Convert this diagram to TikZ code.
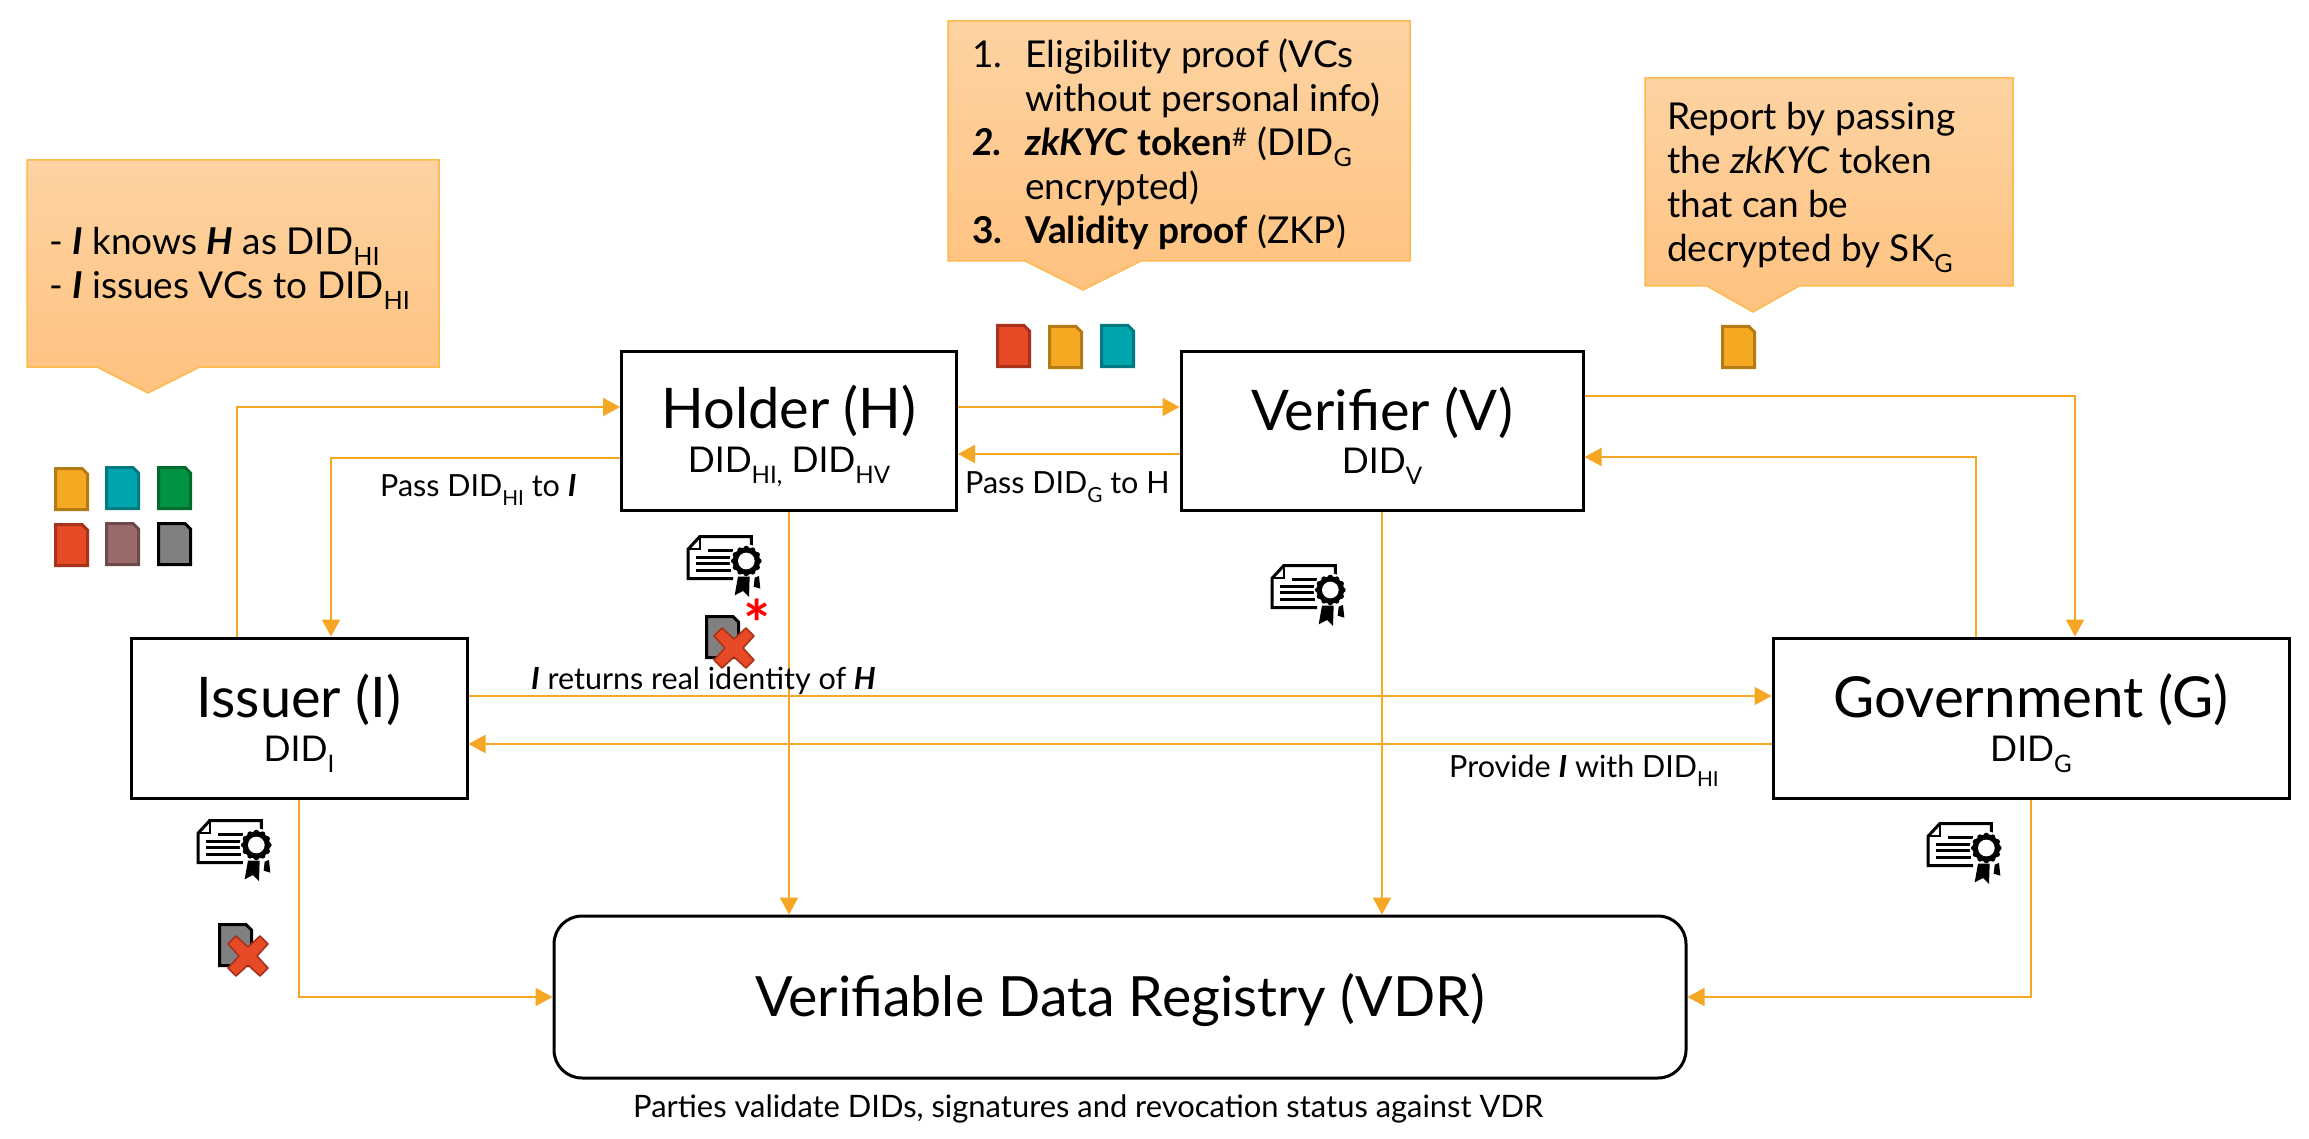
\documentclass[tikz,border=0pt]{standalone}
\usepackage{fontspec}
\usepackage{graphicx}
\setmainfont{Lato}
\usetikzlibrary{arrows.meta,shapes.misc}
\definecolor{lineor}{HTML}{F5A623}
\definecolor{calltop}{HTML}{FDD3A2}
\definecolor{callbot}{HTML}{FEC27F}
\definecolor{callline}{HTML}{FFB84D}
\definecolor{dorange}{HTML}{F5A822}\definecolor{dorangeb}{HTML}{B47A14}
\definecolor{dteal}{HTML}{00A5AD}\definecolor{dtealb}{HTML}{007A80}
\definecolor{dgreen}{HTML}{009444}\definecolor{dgreenb}{HTML}{006B30}
\definecolor{dred}{HTML}{E64A27}\definecolor{dredb}{HTML}{A8321A}
\definecolor{dbrown}{HTML}{9B6A6A}\definecolor{dbrownb}{HTML}{6E4A4A}
\definecolor{dgray}{HTML}{808080}
\newcommand\fs[1]{\fontsize{#1}{#1}\selectfont}
\newcommand\bi[1]{\textbf{\textit{#1}}}
\newcommand\dsub[1]{\raisebox{-0.3em}{\scalebox{.68}{#1}}}
\newcommand\docicon[4]{\begin{scope}[shift={(#1,#2)}]
  \filldraw[fill=#3,draw=#4,line width=3pt,line join=miter] (1.5,1.5)--(28,1.5)--(33.5,7)--(33.5,42.5)--(1.5,42.5)--cycle;
\end{scope}}
\newcommand\crossicon[2]{\begin{scope}[shift={(#1,#2)}]
  \filldraw[fill=dred,draw=dredb,line width=1.6pt,line join=round] (-20,-12)--(-12,-20)--(0,-9)--(12,-20)--(20,-12)--(9,0)--(20,12)--(12,20)--(0,9)--(-12,20)--(-20,12)--(-9,0)--cycle;
\end{scope}}
\newcommand\certicon[2]{\begin{scope}[shift={(#1,#2)},scale=.3333]
  \draw[line width=3pt,line join=miter] (135,128)--(0,128)--(0,40)--(35,2)--(190,2)--(190,35);
  \draw[line width=2pt] (35,2)--(35,40)--(0,40);
  \draw[line width=3pt] (60,43)--(135,43) (23,65)--(130,65) (23,83)--(130,83) (23,103)--(130,103);
  \fill[white] (175,75) circle[radius=50];
  \fill[black] (175,75) circle[radius=41];
  \foreach \a in {0,30,...,330}{\fill[black] (175,75) ++(\a:38) circle[radius=8];}
  \fill[white] (175,75) circle[radius=25];
  \fill[black] (150,122)--(185,122)--(183,183)--(165,165)--(140,178)--cycle;
  \fill[black] (200,125)--(213,120)--(217,158)--(197,152)--cycle;
\end{scope}}
\tikzset{
  box/.style={draw=black,line width=3pt,inner sep=0pt,align=center,text=black},
  conn/.style={draw=lineor,line width=1.9pt,-{Triangle[length=17pt,width=18pt,fill=lineor]}},
  callout/.style={top color=calltop,bottom color=callbot,draw=callline,line width=1.5pt,line join=miter},
  lbl/.style={anchor=base west,inner sep=0pt,font=\fs{30.5}},
  ctext/.style={anchor=north west,inner sep=0pt,align=left,font=\fontsize{37}{44}\selectfont}
}
\newcommand\tstrut{\rule{0pt}{54pt}}
\begin{document}
\begin{tikzpicture}[x=1pt,y=-1pt]
\useasboundingbox (0,0) rectangle (2309,1139);
\fill[white] (0,0) rectangle (2309,1139);
% callouts
\path[callout] (27,160)--(439,160)--(439,367)--(200,367)--(148,393)--(97,367)--(27,367)--cycle;
\path[callout] (948,21)--(1410,21)--(1410,261)--(1141,261)--(1083,290)--(1025,261)--(948,261)--cycle;
\path[callout] (1645,78)--(2013,78)--(2013,286)--(1799,286)--(1753,312)--(1707,286)--(1645,286)--cycle;
\node[ctext] (c1) at (49,227) {- \bi{I} knows \bi{H} as DID\dsub{HI}\\- \bi{I} issues VCs to DID\dsub{HI}};
\node[ctext] (c2) at (972,39) {\makebox[53pt][l]{1.}Eligibility proof (VCs\\\makebox[53pt][l]{}without personal info)\\\makebox[53pt][l]{\bi{2.}}\bi{zkKYC} \textbf{token}\textsuperscript{\#} (DID\dsub{G}\\\makebox[53pt][l]{}encrypted)\\\makebox[53pt][l]{\textbf{3.}}\textbf{Validity proof} (ZKP)};
\node[ctext] (c3) at (1667,102) {Report by passing\\the \textit{zkKYC} token\\that can be\\decrypted by SK\dsub{G}};
% boxes
\node[box,minimum width=335pt,minimum height=159pt] (holder) at (789,430.5) {{\tstrut\fs{56}Holder (H)}\\[9pt]{\fs{35.5}DID\dsub{HI,} DID\dsub{HV}}};
\node[box,minimum width=402pt,minimum height=159pt] (verifier) at (1382,430.5) {{\tstrut\fs{56}Verifier (V)}\\[9pt]{\fs{35.5}DID\dsub{V}}};
\node[box,minimum width=336pt,minimum height=160pt] (issuer) at (299,718) {{\tstrut\fs{56}Issuer (I)}\\[9pt]{\fs{35.5}DID\dsub{I}}};
\node[box,minimum width=516pt,minimum height=160pt] (gov) at (2031,718) {{\tstrut\fs{56.5}Government (G)}\\[9pt]{\fs{35.5}DID\dsub{G}}};
\node[box,rounded corners=28pt,minimum width=1132pt,minimum height=162pt] (vdr) at (1120,997) {\rule{0pt}{50pt}\fs{55.5}Verifiable Data Registry (VDR)};
% connectors
\draw[conn] ([yshift=23.5pt]holder.east) -- ([yshift=23.5pt]verifier.west);
\draw[conn] ([yshift=-23.5pt]verifier.west) -- ([yshift=-23.5pt]holder.east);
\draw[conn] ([xshift=-62pt]issuer.north) |- ([yshift=23.5pt]holder.west);
\draw[conn] ([yshift=-27.5pt]holder.west) -| ([xshift=32pt]issuer.north);
\draw[conn] ([yshift=34.5pt]verifier.east) -| ([xshift=44pt]gov.north);
\draw[conn] ([xshift=-55pt]gov.north) |- ([yshift=-26.5pt]verifier.east);
\draw[conn] ([yshift=22pt]issuer.east) -- ([yshift=22pt]gov.west);
\draw[conn] ([yshift=-26pt]gov.west) -- ([yshift=-26pt]issuer.east);
\draw[conn] (holder.south) -- (holder.south |- vdr.north);
\draw[conn] (verifier.south) -- (verifier.south |- vdr.north);
\draw[conn] (issuer.south) |- (vdr.west);
\draw[conn] (gov.south) |- (vdr.east);
% labels
\node[lbl] (l1) at (380,496) {Pass DID\dsub{HI} to \bi{I}};
\node[lbl] (l2) at (965,493) {Pass DID\dsub{G} to H};
\node[lbl] (l3) at (531,689) {\bi{I} returns real identity of \bi{H}};
\node[lbl] (l4) at (1449,777) {Provide \bi{I} with DID\dsub{HI}};
\node[lbl,font=\fs{30.9}] (l5) at (633,1117) {Parties validate DIDs, signatures and revocation status against VDR};
% icons
\docicon{54}{467}{dorange}{dorangeb}
\docicon{105}{466}{dteal}{dtealb}
\docicon{157}{466}{dgreen}{dgreenb}
\docicon{54}{523}{dred}{dredb}
\docicon{105}{522}{dbrown}{dbrownb}
\docicon{157}{522}{dgray}{black}
\docicon{996}{324}{dred}{dredb}
\docicon{1048}{325}{dorange}{dorangeb}
\docicon{1100}{324}{dteal}{dtealb}
\docicon{1721}{325}{dorange}{dorangeb}
\docicon{705}{615}{dgray}{black}
\crossicon{734}{648}
\docicon{218}{923}{dgray}{black}
\crossicon{248}{956}
\node[inner sep=0pt,text=red,font=\fs{64}\bfseries] (star) at (757,623) {*};
\certicon{688}{536}
\certicon{1272}{565}
\certicon{198}{820}
\certicon{1928}{823}
\end{tikzpicture}
\end{document}
